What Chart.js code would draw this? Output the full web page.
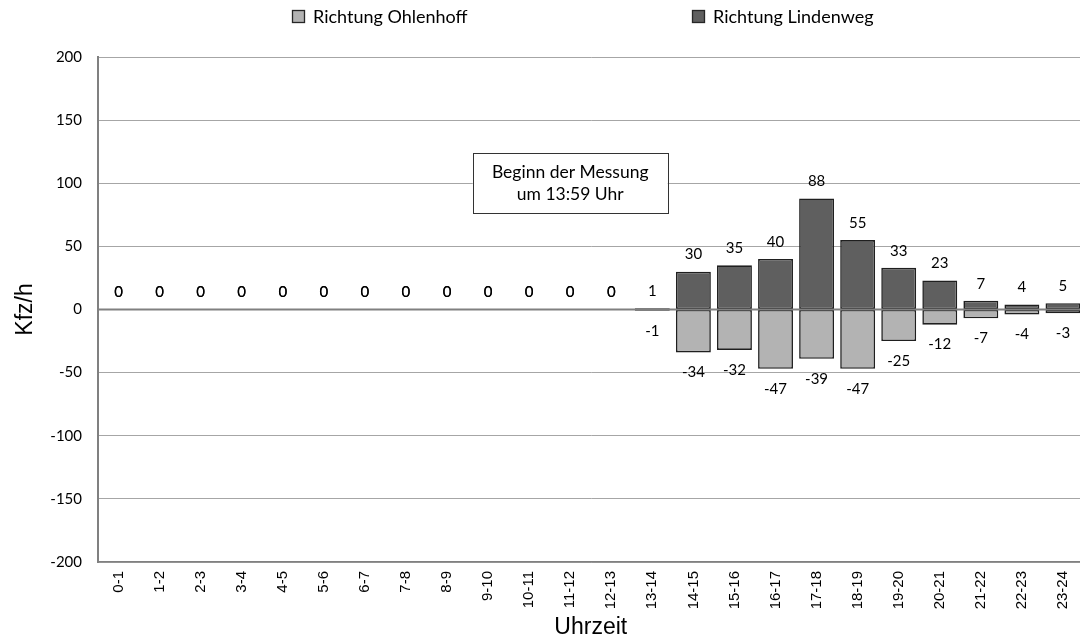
<!DOCTYPE html>
<html>
<head>
<meta charset="utf-8">
<script src="https://cdn.jsdelivr.net/npm/chart.js@4.4.1/dist/chart.umd.min.js"></script>
<style>
    html, body { margin: 0; padding: 0; background: #fff; overflow: hidden; }
    #wrap { width: 1090px; height: 642px; }
</style>
</head>
<body>
<div id="wrap"><canvas id="chart" width="1090" height="642"></canvas></div>
<script>
const hours = [
    '0-1', '1-2', '2-3', '3-4', '4-5', '5-6', '6-7', '7-8', '8-9', '9-10', '10-11', '11-12',
    '12-13', '13-14', '14-15', '15-16', '16-17', '17-18', '18-19', '19-20', '20-21', '21-22', '22-23', '23-24',
];
const ohlenhoff = [0, 0, 0, 0, 0, 0, 0, 0, 0, 0, 0, 0, 0, -1, -34, -32, -47, -39, -47, -25, -12, -7, -4, -3];
const lindenweg = [0, 0, 0, 0, 0, 0, 0, 0, 0, 0, 0, 0, 0, 1, 30, 35, 40, 88, 55, 33, 23, 7, 4, 5];
const yTicks = { min: -200, max: 200, step: 50 };
const noteLines = ['Beginn der Messung', 'um 13:59 Uhr'];

const textFont = 'Lato';
const labelFont = '15px ' + textFont;

// value labels above positive bars, below negative ones, and the zero line over the bars
const valueLabels = {
    id: 'valueLabels',
    afterDatasetsDraw(chart) {
        const { ctx } = chart;
        const y = chart.scales.y;
        const area = chart.chartArea;
        const zero = y.getPixelForValue(0);

        ctx.save();
        ctx.strokeStyle = '#808080';
        ctx.lineWidth = 2;
        ctx.beginPath();
        ctx.moveTo(area.left, zero);
        ctx.lineTo(area.right, zero);
        ctx.stroke();

        ctx.fillStyle = '#000';
        ctx.font = labelFont;
        ctx.textAlign = 'center';
        ctx.textBaseline = 'middle';
        chart.data.datasets.forEach((ds, di) => {
            chart.getDatasetMeta(di).data.forEach((bar, i) => {
                const v = ds.data[i];
                const ty = v < 0 ? bar.y + 20 : bar.y - 17;
                ctx.fillText(String(v), bar.x, ty);
            });
        });
        ctx.restore();
    },
};

const legendBoxes = {
    id: 'legendBoxes',
    afterDraw(chart) {
        const { ctx } = chart;
        const xs = [292, 692];
        ctx.save();
        ctx.font = '18px ' + textFont;
        ctx.textBaseline = 'alphabetic';
        chart.data.datasets.forEach((ds, i) => {
            ctx.fillStyle = ds.backgroundColor;
            ctx.fillRect(xs[i], 10, 13, 13);
            ctx.strokeStyle = '#262626';
            ctx.lineWidth = 1.3;
            ctx.strokeRect(xs[i] + 0.5, 10.5, 12, 12);
            ctx.fillStyle = '#000';
            ctx.fillText(ds.label, xs[i] + 21, 23);
        });
        ctx.restore();
    },
};

const note = {
    id: 'note',
    afterDraw(chart) {
        const { ctx } = chart;
        const cx = chart.scales.x.getPixelForValue(11);
        const cy = chart.scales.y.getPixelForValue(100);
        const w = 195;
        const h = 60;
        ctx.save();
        ctx.fillStyle = '#fff';
        ctx.fillRect(cx - w / 2, cy - h / 2, w, h);
        ctx.strokeStyle = '#333';
        ctx.lineWidth = 1;
        ctx.strokeRect(Math.round(cx - w / 2) + 0.5, Math.round(cy - h / 2) + 0.5, w, h);
        ctx.fillStyle = '#000';
        ctx.font = '17.5px ' + textFont;
        ctx.textAlign = 'center';
        ctx.textBaseline = 'middle';
        ctx.fillText(noteLines[0], cx, cy - 11);
        ctx.fillText(noteLines[1], cx, cy + 11);
        ctx.restore();
    },
};

new Chart(document.getElementById('chart'), {
    type: 'bar',
    data: {
        labels: hours,
        datasets: [
            {
                label: 'Richtung Ohlenhoff',
                data: ohlenhoff,
                backgroundColor: '#b3b3b3',
                borderColor: '#1f1f1f',
                borderWidth: 1.6,
                borderSkipped: false,
            },
            {
                label: 'Richtung Lindenweg',
                data: lindenweg,
                backgroundColor: '#5f5f5f',
                borderColor: '#1f1f1f',
                borderWidth: 1.6,
                borderSkipped: false,
            },
        ],
    },
    options: {
        responsive: false,
        devicePixelRatio: 1,
        animation: false,
        layout: { padding: { top: 57, right: 2, left: 0, bottom: 0 } },
        datasets: { bar: { barPercentage: 0.85, categoryPercentage: 1 } },
        plugins: {
            legend: { display: false },
            tooltip: { enabled: false },
        },
        scales: {
            x: {
                stacked: true,
                grid: { display: false, drawTicks: false },
                border: { color: '#808080', width: 1.5 },
                ticks: {
                    autoSkip: false,
                    maxRotation: 90,
                    minRotation: 90,
                    padding: 9,
                    color: '#000',
                    font: { family: 'Liberation Sans', size: 15 },
                },
                title: {
                    display: true,
                    text: 'Uhrzeit',
                    color: '#000',
                    font: { family: 'Liberation Sans', size: 23 },
                    padding: { top: 0, bottom: 1 },
                },
                afterFit: (s) => { s.height = 80; },
            },
            y: {
                stacked: true,
                min: yTicks.min,
                max: yTicks.max,
                ticks: {
                    stepSize: yTicks.step,
                    padding: 16,
                    color: '#000',
                    font: { family: textFont, size: 15 },
                },
                grid: {
                    drawTicks: false,
                    color: '#a6a6a6',
                    lineWidth: 1,
                },
                border: { color: '#808080', width: 2 },
                title: {
                    display: true,
                    text: 'Kfz/h',
                    color: '#000',
                    font: { family: 'Liberation Sans', size: 23 },
                    padding: { top: 12, bottom: 0 },
                },
                afterFit: (s) => { s.width = 98; },
            },
        },
    },
    plugins: [valueLabels, legendBoxes, note],
});
</script>
</body>
</html>
